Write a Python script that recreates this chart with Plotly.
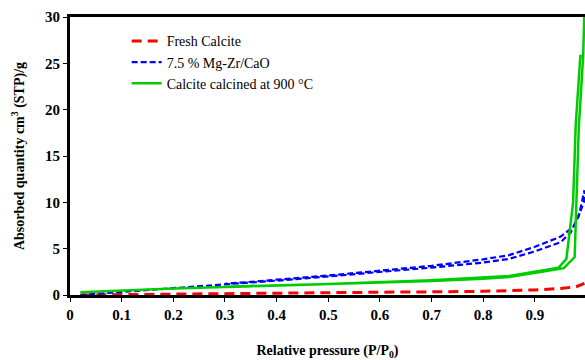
import plotly.graph_objects as go

# Fresh Calcite
fresh_x = [0.02, 0.1, 0.2, 0.3, 0.4, 0.5, 0.6, 0.7, 0.8, 0.9, 0.95, 0.98, 0.996]
fresh_y = [0.0, 0.05, 0.1, 0.15, 0.2, 0.25, 0.3, 0.34, 0.4, 0.55, 0.7, 0.9, 1.25]

# 7.5 % Mg-Zr/CaO (adsorption then desorption)
mg_ads_x = [0.02, 0.1, 0.2, 0.3, 0.4, 0.5, 0.6, 0.7, 0.8, 0.85, 0.9, 0.95, 0.97, 0.98, 0.99, 0.996]
mg_ads_y = [0.0, 0.35, 0.75, 1.15, 1.55, 2.0, 2.45, 2.95, 3.5, 3.9, 4.7, 5.7, 6.8, 8.0, 9.3, 10.2]
mg_des_x = [0.996, 0.985, 0.975, 0.95, 0.9, 0.85, 0.8, 0.7, 0.6, 0.5, 0.4, 0.3]
mg_des_y = [11.3, 8.5, 7.4, 6.3, 5.2, 4.3, 3.85, 3.15, 2.6, 2.1, 1.65, 1.2]

# Calcite calcined at 900 °C (adsorption then desorption)
cc_ads_x = [0.02, 0.1, 0.2, 0.3, 0.4, 0.5, 0.6, 0.7, 0.8, 0.85, 0.94, 0.956, 0.977, 0.985, 0.9935, 0.996]
cc_ads_y = [0.3, 0.5, 0.7, 0.85, 1.0, 1.15, 1.3, 1.5, 1.75, 1.95, 2.75, 2.9, 4.1, 18.1, 25.8, 31.0]
cc_des_x = [0.9935, 0.988, 0.979, 0.974, 0.969, 0.961, 0.946, 0.85, 0.7, 0.5, 0.3]
cc_des_y = [25.8, 25.8, 18.3, 10.0, 7.6, 3.9, 2.95, 2.05, 1.6, 1.2, 0.9]

x_ticks = [0, 0.1, 0.2, 0.3, 0.4, 0.5, 0.6, 0.7, 0.8, 0.9]
y_ticks = [0, 5, 10, 15, 20, 25, 30]

serif = "Liberation Serif"

fig = go.Figure()
fig.add_trace(go.Scatter(
    x=fresh_x, y=fresh_y, mode="lines", name="Fresh Calcite",
    line=dict(color="#ff0000", width=3, dash="10px,6px")))
fig.add_trace(go.Scatter(
    x=mg_ads_x + mg_des_x, y=mg_ads_y + mg_des_y, mode="lines", name="7.5 % Mg-Zr/CaO",
    line=dict(color="#0000ff", width=2.2, dash="6px,3px")))
fig.add_trace(go.Scatter(
    x=cc_ads_x + cc_des_x, y=cc_ads_y + cc_des_y, mode="lines", name="Calcite calcined at 900 °C",
    line=dict(color="#00cc00", width=2.5)))

fig.update_layout(
    width=585, height=360,
    margin=dict(l=70, r=0, t=17, b=58),
    paper_bgcolor="white", plot_bgcolor="white",
    showlegend=True,
    legend=dict(x=0.11, y=0.97, xanchor="left", yanchor="top",
                font=dict(family=serif, size=14, color="black"),
                bgcolor="rgba(0,0,0,0)", tracegroupgap=0),
    xaxis=dict(range=[0, 0.997], tickvals=x_ticks, ticktext=[str(v) for v in x_ticks],
               showgrid=False, zeroline=False, showline=True, linecolor="black", linewidth=3,
               mirror=True, ticks="outside", ticklen=4, tickcolor="black",
               tickfont=dict(family=serif, size=15, color="black", weight="bold"),
               title=dict(text="Relative pressure (P/P<sub>0</sub>)", standoff=27,
                          font=dict(family=serif, size=14, color="black", weight="bold"))),
    yaxis=dict(range=[0, 30], tickvals=y_ticks,
               showgrid=False, zeroline=False, showline=True, linecolor="black", linewidth=3,
               ticks="outside", ticklen=4, tickcolor="black",
               tickfont=dict(family=serif, size=15, color="black", weight="bold"),
               title=dict(text="Absorbed quantity cm<sup>3</sup> (STP)/g", standoff=18,
                          font=dict(family=serif, size=14, color="black", weight="bold"))),
)

fig.write_html("out.html")
